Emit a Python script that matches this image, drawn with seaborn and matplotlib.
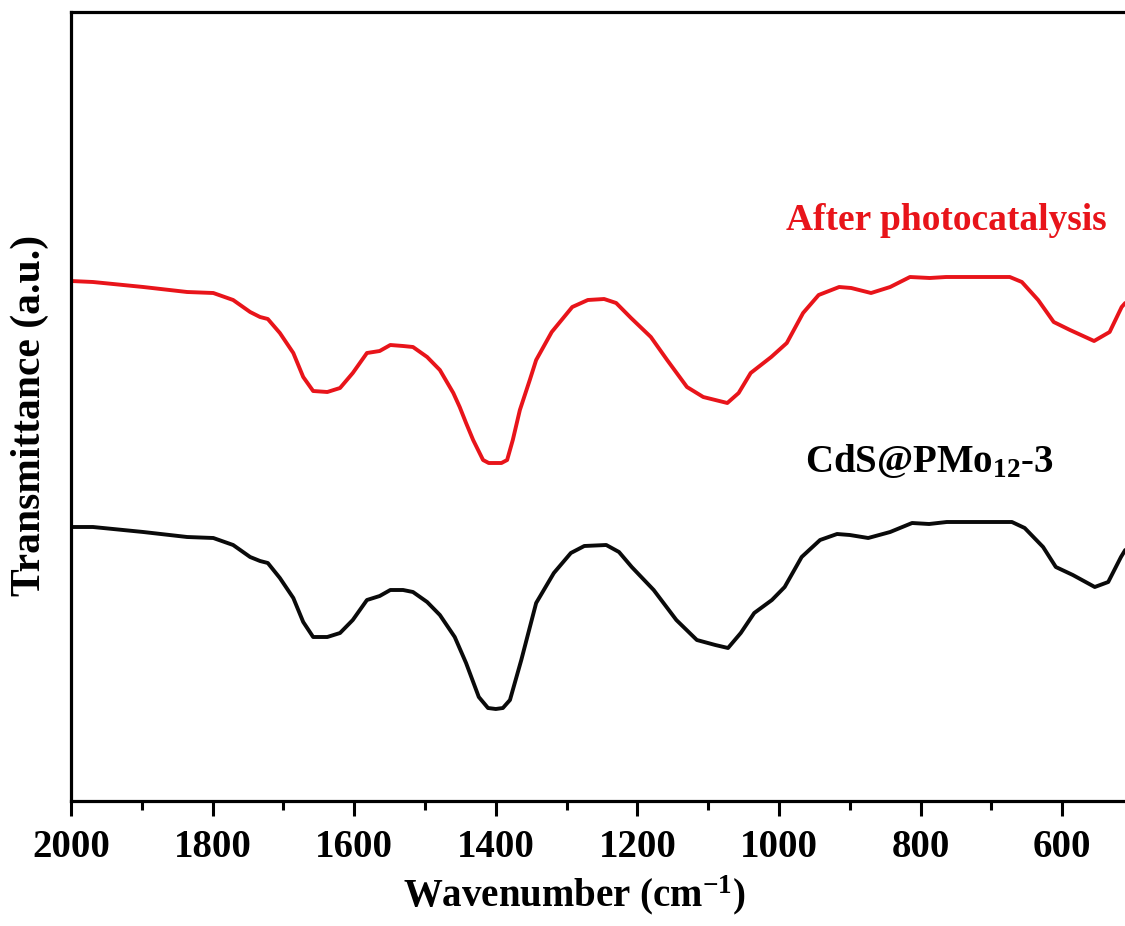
import numpy as np
import pandas as pd
import matplotlib
matplotlib.use("Agg")
import matplotlib.pyplot as plt
import seaborn as sns
from matplotlib.ticker import MultipleLocator

# FTIR spectra (wavenumber in cm^-1, transmittance in arbitrary units, offset traces)
wn_after = [2000, 1969, 1898, 1836, 1799, 1771, 1747, 1733, 1722, 1705, 1686, 1672,
            1658, 1638, 1620, 1602, 1582, 1564, 1549, 1531, 1517, 1497, 1479, 1460,
            1451, 1442, 1432, 1418, 1410, 1401, 1392, 1384, 1376, 1366, 1352, 1343,
            1321, 1292, 1270, 1247, 1230, 1209, 1181, 1158, 1130, 1107, 1073, 1057,
            1040, 1011, 989, 966, 944, 915, 898, 870, 843, 815, 787, 764, 674, 657,
            634, 612, 589, 555, 533, 516, 511]
tr_after = [520, 519, 514, 509, 508, 501, 489, 484, 482, 468, 448, 424,
            410, 409, 413, 428, 448, 450, 456, 455, 454, 444, 431, 408,
            394, 378, 361, 341, 338, 338, 338, 341, 361, 391, 421, 441,
            469, 494, 501, 502, 498, 483, 464, 441, 414, 404, 398, 408,
            428, 444, 458, 488, 506, 514, 513, 508, 514, 524, 523, 524, 524, 519,
            501, 479, 471, 460, 469, 494, 498]

wn_cds = [2000, 1969, 1898, 1836, 1799, 1771, 1747, 1733, 1722, 1705, 1686, 1672,
          1658, 1638, 1620, 1602, 1582, 1564, 1549, 1531, 1517, 1497, 1479, 1458,
          1442, 1424, 1411, 1400, 1390, 1380, 1364, 1343, 1318, 1294, 1275, 1244,
          1226, 1208, 1177, 1145, 1116, 1090, 1072, 1054, 1035, 1010, 992, 968,
          942, 918, 900, 874, 843, 812, 788, 763, 671, 653, 627, 609, 585, 554,
          535, 517, 511]
tr_cds = [274, 274, 269, 264, 263, 256, 244, 240, 238, 223, 203, 179,
          164, 164, 168, 181, 201, 205, 211, 211, 209, 199, 186, 164,
          138, 104, 93, 92, 93, 101, 141, 198, 228, 248, 255, 256,
          249, 234, 211, 181, 161, 156, 153, 168, 188, 201, 214, 244,
          261, 267, 266, 263, 269, 278, 277, 279, 279, 273, 254, 234, 226, 214,
          219, 244, 251]

x_ticks = [2000, 1800, 1600, 1400, 1200, 1000, 800, 600]
label_after = "After photocatalysis"
label_cds = r"CdS@PMo$_{\mathbf{12}}$-3"

sns.set_theme(style="ticks")
plt.rcParams["font.family"] = ["Liberation Serif", "DejaVu Serif"]
plt.rcParams["font.weight"] = "bold"
plt.rcParams["text.color"] = "black"
plt.rcParams["axes.labelcolor"] = "black"
plt.rcParams["mathtext.fontset"] = "custom"
plt.rcParams["mathtext.rm"] = "Liberation Serif:bold"
plt.rcParams["mathtext.bf"] = "Liberation Serif:bold"
plt.rcParams["mathtext.it"] = "Liberation Serif:bold"

W, H = 1125, 926
fig = plt.figure(figsize=(W / 100, H / 100), dpi=100)
# axes box: left spine at x=71 px, top at y=12 px, bottom at y=801 px;
# right end (500 cm^-1) lies just past the figure edge
ax_l, ax_r, ax_t, ax_b = 71, 1133, 12, 801
ax = fig.add_axes([ax_l / W, 1 - ax_b / H, (ax_r - ax_l) / W, (ax_b - ax_t) / H])

df_after = pd.DataFrame({"wn": wn_after, "tr": tr_after})
df_cds = pd.DataFrame({"wn": wn_cds, "tr": tr_cds})
line_kw = dict(lw=2.8, estimator=None, sort=False, solid_joinstyle="round",
               solid_capstyle="round")
sns.lineplot(data=df_after, x="wn", y="tr", ax=ax, color="#e8141a", **line_kw)
sns.lineplot(data=df_cds, x="wn", y="tr", ax=ax, color="#0a0a0a", **line_kw)

ax.set_xlim(2000, 500)
ax.set_ylim(0, 789)

ax.set_xticks(x_ticks)
ax.set_xticklabels([str(t) for t in x_ticks])
ax.xaxis.set_minor_locator(MultipleLocator(100))
ax.tick_params(axis="x", which="major", direction="out", length=11, width=2.2,
               labelsize=28, pad=9, colors="black")
ax.tick_params(axis="x", which="minor", direction="out", length=6.5, width=2.2,
               colors="black")
ax.set_yticks([])
for lab in ax.get_xticklabels():
    lab.set_fontweight("bold")

for side in ["left", "top", "bottom", "right"]:
    ax.spines[side].set_visible(True)
    ax.spines[side].set_linewidth(2.3)
    ax.spines[side].set_color("black")

ax.set_xlabel(r"Wavenumber (cm$^{\mathbf{-1}}$)", fontsize=28, fontweight="bold",
              color="black")
ax.xaxis.set_label_coords((574 - ax_l) / (ax_r - ax_l), -(873 - ax_b) / (ax_b - ax_t))
ax.set_ylabel("Transmittance (a.u.)", fontsize=30, fontweight="bold", color="black")
ax.yaxis.set_label_coords(-(ax_l - 49) / (ax_r - ax_l), (ax_b - 415) / (ax_b - ax_t))

ax.text(764, 581, label_after, color="#e8141a", fontsize=27, fontweight="bold",
        ha="center", va="center")
ax.text(787, 339, label_cds, color="black", fontsize=28, fontweight="bold",
        ha="center", va="center")

fig.savefig("out.png", dpi=100)
